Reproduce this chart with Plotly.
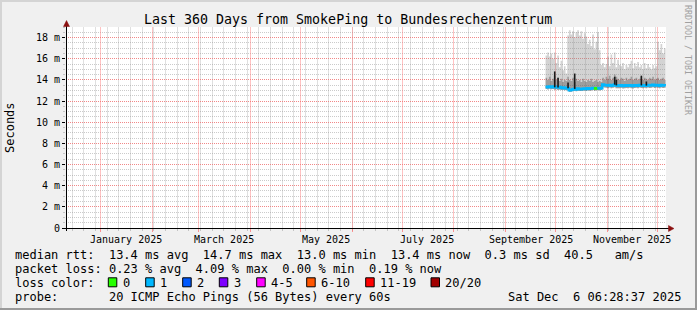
import plotly.graph_objects as go
import pandas as pd

# ---------------- data ----------------
range_start = "2024-12-11 06:28:37"
range_end = "2025-12-06 06:28:37"
data_first_day = "2025-09-25"

# daily values (ms), Sep 25 .. Dec 6 2025
median_ms = [13.35, 13.30, 13.38, 13.32, 13.36, 13.30, 13.34, 13.28, 13.32,
             13.25, 13.28, 13.22, 13.26,
             13.20,
             13.02, 13.05,
             13.12, 13.15, 13.10, 13.18, 13.14, 13.12, 13.16, 13.18, 13.14, 13.20,
             13.16, 13.18, 13.22, 13.18, 13.20, 13.24, 13.20, 13.22,
             13.55, 13.52, 13.50, 13.48, 13.52, 13.45, 13.50, 13.55, 13.48, 13.44,
             13.46, 13.50, 13.42, 13.46, 13.48, 13.44, 13.50, 13.46, 13.42, 13.48,
             13.50, 13.46, 13.52, 13.48, 13.44, 13.50, 13.46, 13.52, 13.48, 13.50,
             13.54, 13.48, 13.52, 13.50, 13.46, 13.52, 13.48, 13.50, 13.45]
smoke_lo_ms = [13.15, 13.10, 13.18, 13.12, 13.15, 13.08, 13.12, 13.05, 13.10, 13.05, 13.08, 13.02, 13.05,
               12.98, 12.85, 12.88, 12.95, 12.98, 12.92, 13.00, 12.95, 12.94, 12.98, 13.00,
               12.95, 13.02, 12.98, 13.00, 13.04, 12.98, 13.02, 13.05, 13.00, 13.04,
               13.30, 13.28, 13.25, 13.22, 13.28, 13.20, 13.25, 13.30, 13.22, 13.20,
               13.22, 13.26, 13.18, 13.22, 13.24, 13.20, 13.26, 13.22, 13.18, 13.24,
               13.26, 13.22, 13.28, 13.24, 13.20, 13.26, 13.22, 13.28, 13.24, 13.26,
               13.30, 13.24, 13.28, 13.26, 13.22, 13.28, 13.24, 13.26, 13.22]
smoke_mid_ms = [14.2, 14.0, 14.3, 13.9, 14.1, 14.4, 14.0, 14.2, 13.9, 14.1, 13.8, 14.0, 13.9,
                14.3, 14.0, 13.9, 14.2, 13.8, 14.1, 13.9, 14.0, 13.8, 14.1, 13.9,
                13.8, 14.0, 13.9, 14.1, 13.8, 13.9, 14.0, 13.8, 13.9, 13.8,
                14.2, 14.0, 14.3, 14.1, 14.4, 14.0, 14.2, 14.5, 14.3, 14.1,
                14.0, 14.2, 14.1, 13.9, 14.2, 14.0, 14.1, 14.3, 14.0, 14.1,
                14.2, 14.0, 14.1, 14.3, 14.0, 14.2, 14.1, 14.0, 14.2, 14.1,
                14.3, 14.0, 14.1, 14.2, 14.0, 14.1, 14.2, 14.0, 14.1]
smoke_top_ms = [16.3, 16.6, 16.2, 16.5, 16.0,
                16.6, 15.6, 16.3, 15.2, 15.8,
                14.9, 15.3, 14.6,
                18.2, 18.7, 18.3, 18.6, 18.0, 18.5, 18.7, 18.2, 18.6, 17.9, 18.4, 18.1,
                17.4, 17.8, 17.2,
                18.3, 16.9, 17.6, 18.5, 16.8,
                15.4, 15.6, 15.2, 15.5,
                16.2, 15.3, 16.4, 15.6, 16.6, 15.2, 15.9, 15.4,
                15.3, 15.6, 15.0, 15.4, 15.2, 15.5,
                15.8, 15.1, 15.6, 15.3, 15.7, 15.2,
                15.4, 15.0, 15.6, 15.1, 15.5, 15.2, 15.0, 15.4, 15.1, 15.3,
                17.6, 16.8, 17.4, 16.5, 17.0, 16.2]
loss_pings = [1] * 29 + [0, 0] + [1] * 42

spike_day = [5, 7, 13, 17, 41, 42, 57, 60]
spike_top_ms = [14.8, 14.2, 13.75, 14.6, 14.3, 14.0, 14.4, 13.85]

loss_labels = ["0", "1", "2", "3", "4-5", "6-10", "11-19", "20/20"]
loss_colors = ["#26ff00", "#00b8ff", "#0059ff", "#7e00ff", "#ff00ff", "#ff5500", "#ff0000", "#a10000"]
loss_bucket_max = [0, 1, 2, 3, 5, 10, 19, 20]

month_starts = ["2025-01-01", "2025-02-01", "2025-03-01", "2025-04-01", "2025-05-01", "2025-06-01",
                "2025-07-01", "2025-08-01", "2025-09-01", "2025-10-01", "2025-11-01", "2025-12-01"]
first_week_line = "2024-12-15"
month_label_text = ["January 2025", "March 2025", "May 2025", "July 2025", "September 2025", "November 2025"]
month_label_at = ["2025-01-16", "2025-03-16", "2025-05-16", "2025-07-16", "2025-09-16", "2025-11-16"]

y_tick_vals = [0, 2, 4, 6, 8, 10, 12, 14, 16, 18]
y_tick_text = ["0"] + [f"{v} m" for v in y_tick_vals[1:]]

legend_rtt = "median rtt:  13.4 ms avg  14.7 ms max  13.0 ms min  13.4 ms now  0.3 ms sd  40.5   am/s"
legend_loss = "packet loss: 0.23 % avg  4.09 % max  0.00 % min  0.19 % now"
legend_probe = "probe:       20 ICMP Echo Pings (56 Bytes) every 60s"
stamp = "Sat Dec  6 06:28:37 2025"
title = "Last 360 Days from SmokePing to Bundesrechenzentrum"

# ---------------- layout geometry ----------------
W, H = 697, 310
L, R, T, B = 66, 666, 27, 228
FONT = "DejaVu Sans Mono"


def fx(px):
    return (px - L) / (R - L)


def fy(py):
    return (B - py) / (B - T)


days = pd.date_range(data_first_day, periods=len(median_ms), freq="D")

fig = go.Figure()
fill_light = "rgba(140,140,140,0.38)"
fill_dark = "rgba(60,60,60,0.35)"
fig.add_trace(go.Scatter(x=days, y=smoke_lo_ms, mode="lines", line=dict(width=0, shape="hv"),
                         hoverinfo="skip", showlegend=False))
fig.add_trace(go.Scatter(x=days, y=smoke_top_ms, mode="lines", line=dict(width=0, shape="hv"),
                         fill="tonexty", fillcolor=fill_light, hoverinfo="skip", showlegend=False))
fig.add_trace(go.Scatter(x=days, y=smoke_lo_ms, mode="lines", line=dict(width=0, shape="hv"),
                         hoverinfo="skip", showlegend=False))
fig.add_trace(go.Scatter(x=days, y=smoke_mid_ms, mode="lines", line=dict(width=0, shape="hv"),
                         fill="tonexty", fillcolor=fill_dark, hoverinfo="skip", showlegend=False))

# spikes (drawn on the overlaid month axis, which shares the same range)
sx, sy = [], []
for d, top in zip(spike_day, spike_top_ms):
    t = days[d] + pd.Timedelta(hours=12)
    sx += [t, t, None]
    sy += [median_ms[d], top, None]
fig.add_trace(go.Scatter(x=sx, y=sy, mode="lines", line=dict(color="#1a1a1a", width=1.6),
                         xaxis="x2", yaxis="y", hoverinfo="skip", showlegend=False))


def bucket(n):
    for k, m in enumerate(loss_bucket_max):
        if n <= m:
            return k
    return len(loss_bucket_max) - 1


# median line coloured by loss
runs = []
cur = None
for i, n in enumerate(loss_pings):
    b = bucket(n)
    if cur is None or cur[0] != b:
        cur = [b, i, i]
        runs.append(cur)
    else:
        cur[2] = i
for b, i0, i1 in runs:
    j1 = min(i1 + 1, len(days) - 1)
    fig.add_trace(go.Scatter(x=days[i0:j1 + 1], y=median_ms[i0:j1 + 1], mode="lines",
                             line=dict(color=loss_colors[b], width=2.6, shape="hv"),
                             hoverinfo="skip", showlegend=False))

MGRID = "rgba(255,110,110,0.72)"
GRID = "rgba(160,160,160,0.55)"
MGRID_V = "rgba(255,120,120,0.45)"
GRID_V = "rgba(150,150,150,0.30)"

fig.update_layout(
    xaxis=dict(type="date", range=[range_start, range_end], tickmode="linear", tick0=first_week_line,
               dtick=7 * 86400000, showticklabels=False, showgrid=True, gridcolor=GRID_V,
               gridwidth=1, ticks="outside", ticklen=2, tickcolor=GRID,
               showline=False, zeroline=False),
    xaxis2=dict(type="date", range=[range_start, range_end], overlaying="x", side="bottom",
                tickmode="array", tickvals=month_starts, showticklabels=False, showgrid=True,
                gridcolor=MGRID_V, gridwidth=1, ticks="outside", ticklen=3,
                tickcolor=MGRID, showline=False, zeroline=False),
    yaxis=dict(range=[0, 19], tickmode="array", tickvals=y_tick_vals, ticktext=y_tick_text,
               showgrid=True, gridcolor=MGRID, griddash="1px,1px", gridwidth=1,
               ticks="outside", ticklen=3, tickcolor="#000000", showline=False, zeroline=False,
               tickfont=dict(family=FONT, size=10, color="#000000"),
               minor=dict(tickmode="linear", tick0=0, dtick=0.5, showgrid=True, gridcolor=GRID,
                          griddash="1px,1px", gridwidth=1, ticks="outside", ticklen=2, tickcolor=GRID)),
)

shapes = []
# frame
shapes.append(dict(type="rect", xref="paper", yref="paper", x0=fx(0), x1=fx(W), y0=fy(0), y1=fy(2),
                   fillcolor="#d4d4d4", line=dict(width=0), layer="below"))
shapes.append(dict(type="rect", xref="paper", yref="paper", x0=fx(0), x1=fx(2), y0=fy(0), y1=fy(H),
                   fillcolor="#d4d4d4", line=dict(width=0), layer="below"))
shapes.append(dict(type="rect", xref="paper", yref="paper", x0=fx(W - 2), x1=fx(W), y0=fy(0), y1=fy(H),
                   fillcolor="#9a9a9a", line=dict(width=0), layer="below"))
shapes.append(dict(type="rect", xref="paper", yref="paper", x0=fx(0), x1=fx(W), y0=fy(H - 2), y1=fy(H),
                   fillcolor="#9a9a9a", line=dict(width=0), layer="below"))
# axes
shapes.append(dict(type="line", xref="paper", yref="paper", x0=fx(63), x1=fx(670), y0=fy(228.5), y1=fy(228.5),
                   line=dict(color="#000000", width=1)))
shapes.append(dict(type="line", xref="paper", yref="paper", x0=fx(66.5), x1=fx(66.5), y0=fy(231), y1=fy(25),
                   line=dict(color="#000000", width=1)))
# arrows
ARROW = "#8b1010"
shapes.append(dict(type="path", xref="paper", yref="paper",
                   path=f"M {fx(63.5)} {fy(26.5)} L {fx(69.5)} {fy(26.5)} L {fx(66.5)} {fy(20.5)} Z",
                   fillcolor=ARROW, line=dict(color=ARROW, width=0.5)))
shapes.append(dict(type="path", xref="paper", yref="paper",
                   path=f"M {fx(668.5)} {fy(225.5)} L {fx(668.5)} {fy(231.5)} L {fx(674)} {fy(228.5)} Z",
                   fillcolor=ARROW, line=dict(color=ARROW, width=0.5)))

ann = []


def text(x, y, s, size=12, xanchor="left", color="#000000", angle=0):
    ann.append(dict(xref="paper", yref="paper", x=fx(x), y=fy(y), text=s, showarrow=False,
                    xanchor=xanchor, yanchor="middle", textangle=angle,
                    font=dict(family=FONT, size=size, color=color), borderpad=0, borderwidth=0))


text(348, 19.7, title, size=13.3, xanchor="center")
text(10, 128, "Seconds", size=12, xanchor="center", angle=-90)
text(688, 60, "RRDTOOL / TOBI OETIKER", size=8.3, xanchor="center", color="#a0a0a0", angle=90)
for lbl, at in zip(month_label_text, month_label_at):
    ann.append(dict(xref="x", yref="paper", x=at, y=fy(239), text=lbl, showarrow=False,
                    xanchor="center", yanchor="middle", font=dict(family=FONT, size=10, color="#000000"),
                    borderpad=0, borderwidth=0))
text(14.5, 254.7, legend_rtt)
text(14.5, 268.8, legend_loss)
text(14.5, 283, "loss color:")
text(14.5, 297.2, legend_probe)
text(681, 297.2, stamp, xanchor="right")

box_left = [108.3, 145.7, 182.7, 219.3, 256.7, 306.7, 365.7, 431]
for bl, lab, col in zip(box_left, loss_labels, loss_colors):
    shapes.append(dict(type="rect", xref="paper", yref="paper", x0=fx(bl), x1=fx(bl + 8.5),
                       y0=fy(277.8), y1=fy(286.8), fillcolor=col, line=dict(color="#000000", width=1)))
    text(bl + 14.5, 283, lab)

fig.update_layout(width=W, height=H, margin=dict(l=L, r=W - R, t=T, b=H - B, pad=0),
                  paper_bgcolor="#f0f0f0", plot_bgcolor="#ffffff", shapes=shapes, annotations=ann,
                  showlegend=False)

fig.write_html("out.html")
